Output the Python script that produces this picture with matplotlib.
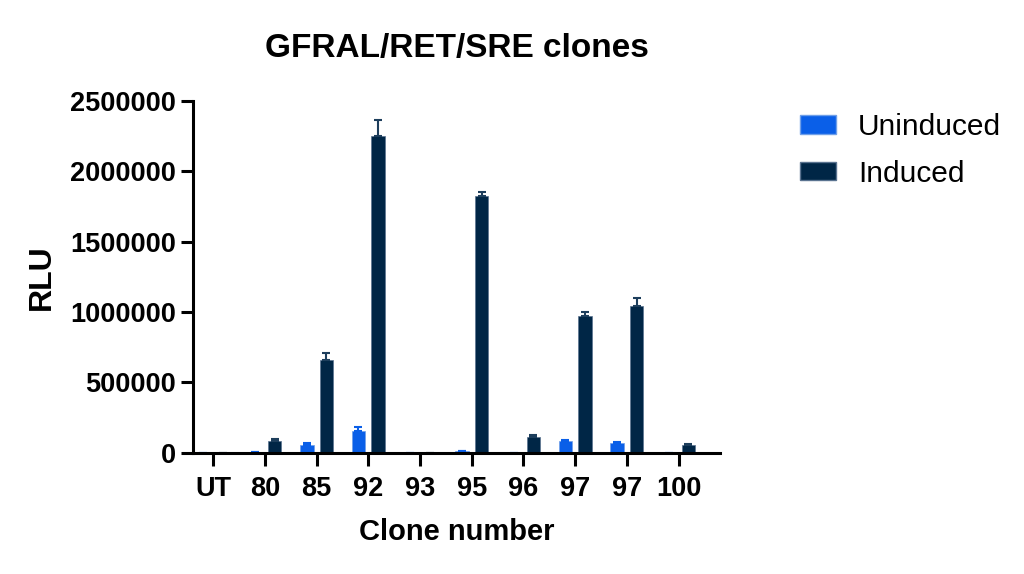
import numpy as np
import matplotlib.pyplot as plt
from matplotlib.patches import Patch

# clone labels and luminescence readings (RLU)
clones = ["UT", "80", "85", "92", "93", "95", "96", "97", "97", "100"]
uninduced = [0, 3000, 55000, 157000, 0, 12000, 0, 85000, 72000, 0]
uninduced_err = [0, 0, 14000, 24000, 0, 0, 0, 5000, 5000, 0]
induced = [0, 85000, 660000, 2250000, 0, 1825000, 110000, 975000, 1040000, 52000]
induced_err = [0, 15000, 50000, 115000, 0, 28000, 16000, 25000, 63000, 10000]

blue = "#0A5FE8"
navy = "#002646"

plt.rcParams['font.family'] = ['Liberation Sans', 'DejaVu Sans']

fig = plt.figure(figsize=(10.24, 5.74), dpi=100)
ax = fig.add_axes([193 / 1024, 1 - 452.7 / 574, (720 - 193) / 1024, (452.7 - 101) / 574])

x = np.arange(len(clones))
w = 0.26
off = 0.19
# upper-only error bars
zeros = [0] * len(clones)
ax.bar(x - off, uninduced, w, color=blue, edgecolor="#6f9fe8", linewidth=0.5,
       yerr=[zeros, uninduced_err],
       error_kw=dict(ecolor=blue, elinewidth=1.5, capsize=3, capthick=1.5))
ax.bar(x + off, induced, w, color=navy, edgecolor="#5a7390", linewidth=0.5,
       yerr=[zeros, induced_err],
       error_kw=dict(ecolor="#1d3e5c", elinewidth=1.5, capsize=3, capthick=1.5))

ax.set_xlim(-0.39, 9.8)
ax.set_ylim(0, 2500000)
ax.set_yticks([0, 500000, 1000000, 1500000, 2000000, 2500000])
ax.set_yticklabels(["0", "500000", "1000000", "1500000", "2000000", "2500000"])
ax.set_xticks(x)
ax.set_xticklabels(clones)

for s in ["top", "right"]:
    ax.spines[s].set_visible(False)
for s in ["left", "bottom"]:
    ax.spines[s].set_linewidth(2.2)
ax.tick_params(axis="both", width=2.2, length=9, labelsize=19.5)
ax.tick_params(axis="x", pad=8)
ax.tick_params(axis="y", pad=3.5)
for lbl in ax.get_xticklabels() + ax.get_yticklabels():
    lbl.set_fontweight("bold")

ax.set_ylabel("RLU", fontsize=23, fontweight="bold", labelpad=9)
ax.set_xlabel("Clone number", fontsize=21, fontweight="bold", labelpad=11)
ax.set_title("GFRAL/RET/SRE clones", fontsize=24, fontweight="bold", pad=32)

handles = [Patch(facecolor=blue, edgecolor="#6f9fe8", label="Uninduced"),
           Patch(facecolor=navy, edgecolor="#5a7390", label="Induced")]
fig.legend(handles=handles, loc="upper left", bbox_to_anchor=(800 / 1024, 1 - 113 / 574),
           frameon=False, fontsize=21.5, handlelength=1.2, handleheight=0.6,
           handletextpad=0.75, labelspacing=0.62, borderpad=0, borderaxespad=0)

fig.savefig("out.png", dpi=100)
